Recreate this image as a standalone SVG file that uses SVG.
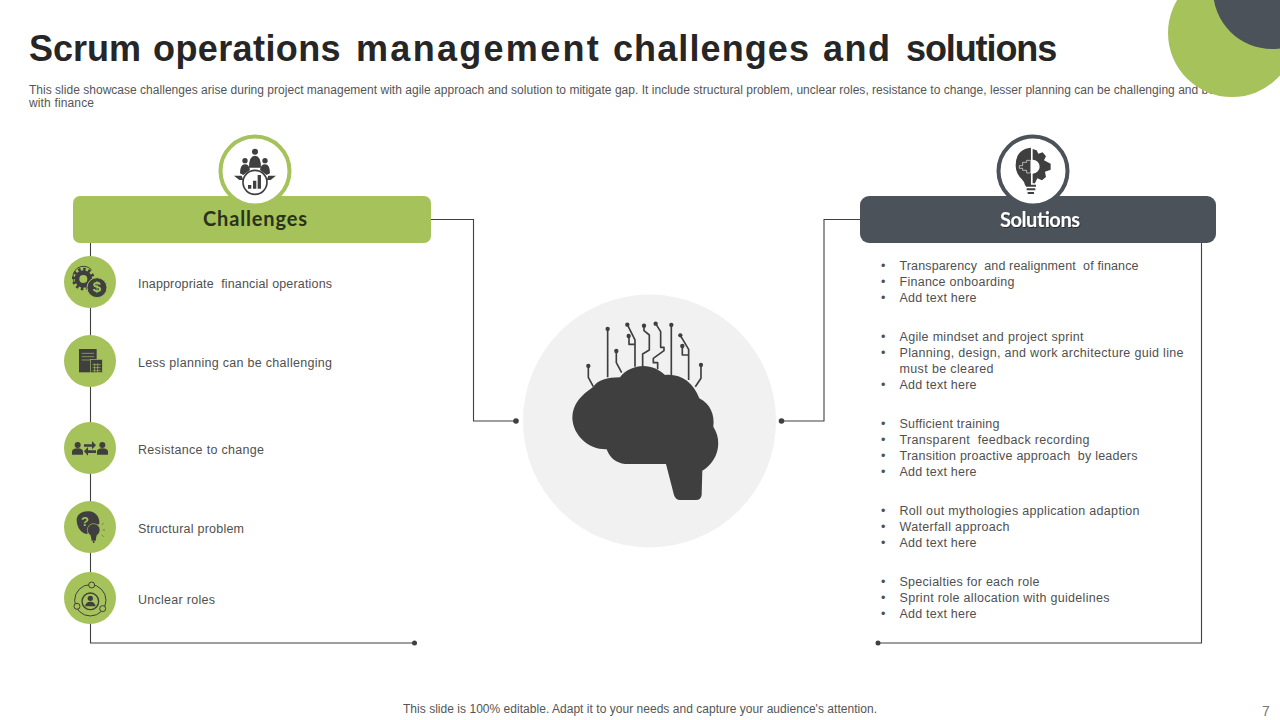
<svg xmlns="http://www.w3.org/2000/svg" width="1280" height="720" viewBox="0 0 1280 720">
<style>
text{font-family:"Liberation Sans",Arial,sans-serif;fill:#404040;white-space:pre}
.title{font-size:36px;font-weight:700;fill:#262626}
.sub{font-size:12px;fill:#555}
.lab{font-size:12.5px;fill:#505050}
.hd{font-family:"Lato","Open Sans",sans-serif;font-size:20px;font-weight:700}
.ln{fill:none;stroke:#404040;stroke-width:1.1}
.dot{fill:#404040}
.g{fill:#a5c25b}
.ic{fill:#3f3f3f}
.ics{fill:none;stroke:#3f3f3f}
.cir{fill:none;stroke:#3f3f3f;stroke-width:5;stroke-linejoin:round}
</style>
<defs><filter id="sh" x="-10%" y="-20%" width="120%" height="150%"><feDropShadow dx="0.800" dy="0.800" stdDeviation="0.600" flood-color="#000" flood-opacity=".6"/></filter></defs>
<rect width="1280" height="720" fill="#fff"/>
<text class="sub" x="29" y="93.500" textLength="1186" lengthAdjust="spacing">This slide showcase challenges arise during project management with agile approach and solution to mitigate gap. It include structural problem, unclear roles, resistance to change, lesser planning can be challenging and be</text>
<text class="sub" x="29" y="107" textLength="65" lengthAdjust="spacing">with finance</text>
<g id="decor"><circle class="g" cx="1232" cy="33" r="64"/><circle cx="1272" cy="-10" r="59" fill="#4c525a"/></g>
<text class="title" y="61"><tspan x="29">Scrum</tspan> <tspan x="153" letter-spacing=".4">operations</tspan> <tspan x="356" letter-spacing="2.300">management</tspan> <tspan x="613" letter-spacing="1.100">challenges</tspan> <tspan x="823" letter-spacing="1.500">and</tspan> <tspan x="906" letter-spacing="-1.100">solutions</tspan></text>
<g id="connectors">
<path class="ln" d="M90.500 243V643H414M431 219.500H473.500V421H516M860 219.500H824V421H781M1201.500 243V643H878"/>
<circle class="dot" cx="414.500" cy="643" r="2.500"/><circle class="dot" cx="516" cy="421" r="2.800"/><circle class="dot" cx="781.500" cy="421" r="2.800"/><circle class="dot" cx="878" cy="643" r="2.500"/>
</g>
<g id="challenges">
<rect x="73" y="196" width="358" height="47" rx="7" class="g"/>
<circle cx="255" cy="171" r="34.500" fill="#fff" stroke="#a5c25b" stroke-width="4"/>
<g transform="translate(50 125) scale(.3333)">
<circle class="ic" cx="615" cy="80" r="9"/><circle class="ic" cx="585" cy="107" r="8"/><circle class="ic" cx="645" cy="107" r="8"/>
<path class="ic" d="M597 128Q597 92 615 92Q633 92 633 128Z"/><path class="ic" d="M570 145Q570 118 585 118Q598 118 600 135L580 150ZM660 145Q660 118 645 118Q632 118 630 135L650 150Z"/>
<path class="ic" d="M552 152H575L580 165H568ZM678 152H655L650 165H662Z"/>
<circle cx="615" cy="172" r="36" fill="#fff" stroke="#3f3f3f" stroke-width="5"/>
<path class="ic" d="M594 180h10v11h-10zM609 167h10v24h-10zM623 150h10v41h-10z"/>
</g>
<text class="hd" x="203" y="226" textLength="104" style="fill:#2a331a">Challenges</text>
</g>
<g id="c1"><circle class="g" cx="90" cy="282" r="26"/>
<g transform="translate(50 125) scale(.3333)">
<path class="ics" stroke-width="3" d="M72 470A32 32 0 0 1 125 435"/>
<circle cx="100" cy="462" r="19" fill="none" stroke="#3f3f3f" stroke-width="14"/>
<circle class="ics" stroke-width="14" stroke-dasharray="7 7" cx="100" cy="462" r="27"/>
<circle class="ic" cx="141" cy="488" r="30" stroke="#a5c25b" stroke-width="3"/></g>
<text x="97" y="292" font-size="15" font-weight="700" text-anchor="middle" style="fill:#a5c25b">$</text>
<text class="lab" x="138" y="288" textLength="194" lengthAdjust="spacing">Inappropriate  financial operations</text></g>
<g id="c2"><circle class="g" cx="90" cy="361" r="26"/>
<g transform="translate(50 330) scale(.3333)">
<rect class="ic" x="87" y="57" width="53" height="70"/>
<path d="M95 70H132M95 80H132M95 90H120" stroke="#a5c25b" stroke-width="2" fill="none"/>
<rect class="ic" x="122" y="88" width="35" height="40" stroke="#a5c25b" stroke-width="2"/>
<path d="M128 104H152M128 113H152M128 122H152M134 100V126M143 100V126" stroke="#a5c25b" stroke-width="2" fill="none"/></g>
<text class="lab" x="138" y="367" textLength="194" lengthAdjust="spacing">Less planning can be challenging</text></g>
<g id="c3"><circle class="g" cx="90" cy="448" r="26"/>
<g transform="translate(50 330) scale(.3333)">
<circle class="ic" cx="83" cy="345" r="9"/><path class="ic" d="M66 374V366Q66 355 83 355Q99 355 99 366V374Z"/>
<circle class="ic" cx="157" cy="345" r="9"/><path class="ic" d="M141 374V366Q141 355 157 355Q174 355 174 366V374Z"/>
<path class="ic" d="M102 343H126V333L138 346L126 358V350H102ZM138 361H114V351L102 364L114 377V369H138Z"/></g>
<text class="lab" x="138" y="454" textLength="126" lengthAdjust="spacing">Resistance to change</text></g>
<g id="c4"><circle class="g" cx="90" cy="527" r="26"/>
<g transform="translate(50 330) scale(.3333)">
<path class="ic" d="M80 570C80 552 98 543 116 544C136 545 150 560 148 582L118 592L112 612C95 612 80 592 80 570Z"/>
<circle cx="131" cy="600" r="19" class="ic" stroke="#a5c25b" stroke-width="2"/>
<path class="ic" d="M122 615H140L137 632H125Z"/><circle class="ic" cx="131" cy="636" r="3"/>
<path d="M155 585L161 580M158 600H165M155 615L161 620" stroke="#3f3f3f" stroke-width="1.500"/></g>
<text x="85" y="526" font-size="13" font-weight="700" text-anchor="middle" style="fill:#a5c25b">?</text>
<text class="lab" x="138" y="532.500" textLength="106" lengthAdjust="spacing">Structural problem</text></g>
<g id="c5"><circle class="g" cx="90" cy="598" r="26"/>
<g transform="translate(50 330) scale(.3333)">
<circle class="ics" stroke-width="3" cx="121" cy="811" r="47"/>
<circle cx="121" cy="814" r="25" fill="#a5c25b" stroke="#3f3f3f" stroke-width="4"/>
<circle class="ic" cx="121" cy="805" r="8"/><path class="ic" d="M105 829Q107 815 121 815Q135 815 137 829Z"/>
<circle cx="125" cy="765" r="9" fill="#a5c25b" stroke="#3f3f3f" stroke-width="3"/><circle cx="81" cy="829" r="9" fill="#a5c25b" stroke="#3f3f3f" stroke-width="3"/><circle cx="158" cy="836" r="9" fill="#a5c25b" stroke="#3f3f3f" stroke-width="3"/></g>
<text class="lab" x="138" y="604" textLength="77" lengthAdjust="spacing">Unclear roles</text></g>
<g id="center">
<circle cx="649.500" cy="421" r="126.500" fill="#f1f1f1"/>
<g transform="translate(510 290) scale(.3333)">
<path class="ic" d="M250 290C265 270 290 262 330 262C345 240 375 228 400 228C425 228 450 240 465 255C510 250 550 275 568 325C600 340 615 375 610 410C630 440 630 480 610 510C600 525 590 535 577 542L575 615Q573 630 558 630H510Q497 630 492 615L468 522H345C320 520 300 505 290 478C240 480 190 440 187 385C187 340 215 315 250 290Z"/>
<path class="cir" d="M250 290L235 262V228M293 262V117M335 248L319 218V183M375 230V150L352 104M375 163H357V138M398 228V192L418 180V135L402 122V107M443 238V218H430V205L462 182V172H452V125L437 101M484 255V105M536 270V178L511 136M536 195H517V168M556 290L573 265V225"/>
<g class="ic"><circle cx="235" cy="228" r="6.500"/><circle cx="293" cy="117" r="6.500"/><circle cx="319" cy="183" r="6.500"/><circle cx="352" cy="104" r="6.500"/><circle cx="356" cy="138" r="6.500"/><circle cx="402" cy="107" r="6.500"/><circle cx="437" cy="101" r="6.500"/><circle cx="484" cy="105" r="6.500"/><circle cx="511" cy="136" r="6.500"/><circle cx="517" cy="168" r="6.500"/><circle cx="573" cy="225" r="6.500"/></g>
</g></g>
<g id="solutions">
<rect x="860" y="196" width="356" height="47" rx="9" fill="#4c525a"/>
<circle cx="1033" cy="171" r="34.500" fill="#fff" stroke="#4c525a" stroke-width="4"/>
<g transform="translate(850 125) scale(.3333)">
<path class="ic" d="M543 68Q497 72 497 122Q497 145 515 162Q525 172 526 182H543Z"/>
<path class="ic" d="M548 72L560 76L565 86L578 82L588 94L582 106L602 116V134L585 140L588 156L576 166L562 160L555 175L548 175V146A21 21 0 0 0 548 104Z"/>
<path d="M528 182H558M530 193H556M533 204H552" stroke="#3f3f3f" stroke-width="6" fill="none"/>
<path d="M508 122H518V112H530V106H542V144H530V136H518V130H508Z" fill="none" stroke="#fff" stroke-width="1.800"/></g>
<text class="hd" x="1000" y="227" textLength="80" filter="url(#sh)" style="fill:#fff">Solutions</text>
<g id="sol-text">
<g class="lab" id="bullets">
<text class="lab" x="881" y="270">•</text><text class="lab" x="899.500" y="270" textLength="239" lengthAdjust="spacing">Transparency  and realignment  of finance</text>
<text class="lab" x="881" y="286">•</text><text class="lab" x="899.500" y="286" textLength="115" lengthAdjust="spacing">Finance onboarding</text>
<text class="lab" x="881" y="302">•</text><text class="lab" x="899.500" y="302" textLength="77" lengthAdjust="spacing">Add text here</text>
<text class="lab" x="881" y="341">•</text><text class="lab" x="899.500" y="341" textLength="184" lengthAdjust="spacing">Agile mindset and project sprint</text>
<text class="lab" x="881" y="357">•</text><text class="lab" x="899.500" y="357" textLength="284" lengthAdjust="spacing">Planning, design, and work architecture guid line</text>
<text class="lab" x="899.500" y="373" textLength="94" lengthAdjust="spacing">must be cleared</text>
<text class="lab" x="881" y="389">•</text><text class="lab" x="899.500" y="389" textLength="77" lengthAdjust="spacing">Add text here</text>
<text class="lab" x="881" y="428">•</text><text class="lab" x="899.500" y="428" textLength="100" lengthAdjust="spacing">Sufficient training</text>
<text class="lab" x="881" y="444">•</text><text class="lab" x="899.500" y="444" textLength="190" lengthAdjust="spacing">Transparent  feedback recording</text>
<text class="lab" x="881" y="460">•</text><text class="lab" x="899.500" y="460" textLength="238" lengthAdjust="spacing">Transition proactive approach  by leaders</text>
<text class="lab" x="881" y="476">•</text><text class="lab" x="899.500" y="476" textLength="77" lengthAdjust="spacing">Add text here</text>
<text class="lab" x="881" y="515">•</text><text class="lab" x="899.500" y="515" textLength="240" lengthAdjust="spacing">Roll out mythologies application adaption</text>
<text class="lab" x="881" y="531">•</text><text class="lab" x="899.500" y="531" textLength="110" lengthAdjust="spacing">Waterfall approach</text>
<text class="lab" x="881" y="547">•</text><text class="lab" x="899.500" y="547" textLength="77" lengthAdjust="spacing">Add text here</text>
<text class="lab" x="881" y="586">•</text><text class="lab" x="899.500" y="586" textLength="140" lengthAdjust="spacing">Specialties for each role</text>
<text class="lab" x="881" y="602">•</text><text class="lab" x="899.500" y="602" textLength="210" lengthAdjust="spacing">Sprint role allocation with guidelines</text>
<text class="lab" x="881" y="618">•</text><text class="lab" x="899.500" y="618" textLength="77" lengthAdjust="spacing">Add text here</text>
</g></g></g>
<text class="sub" x="403" y="713" textLength="474" lengthAdjust="spacing">This slide is 100% editable. Adapt it to your needs and capture your audience's attention.</text>
<text x="1262" y="716" font-size="14" style="fill:#777">7</text>
</svg>
